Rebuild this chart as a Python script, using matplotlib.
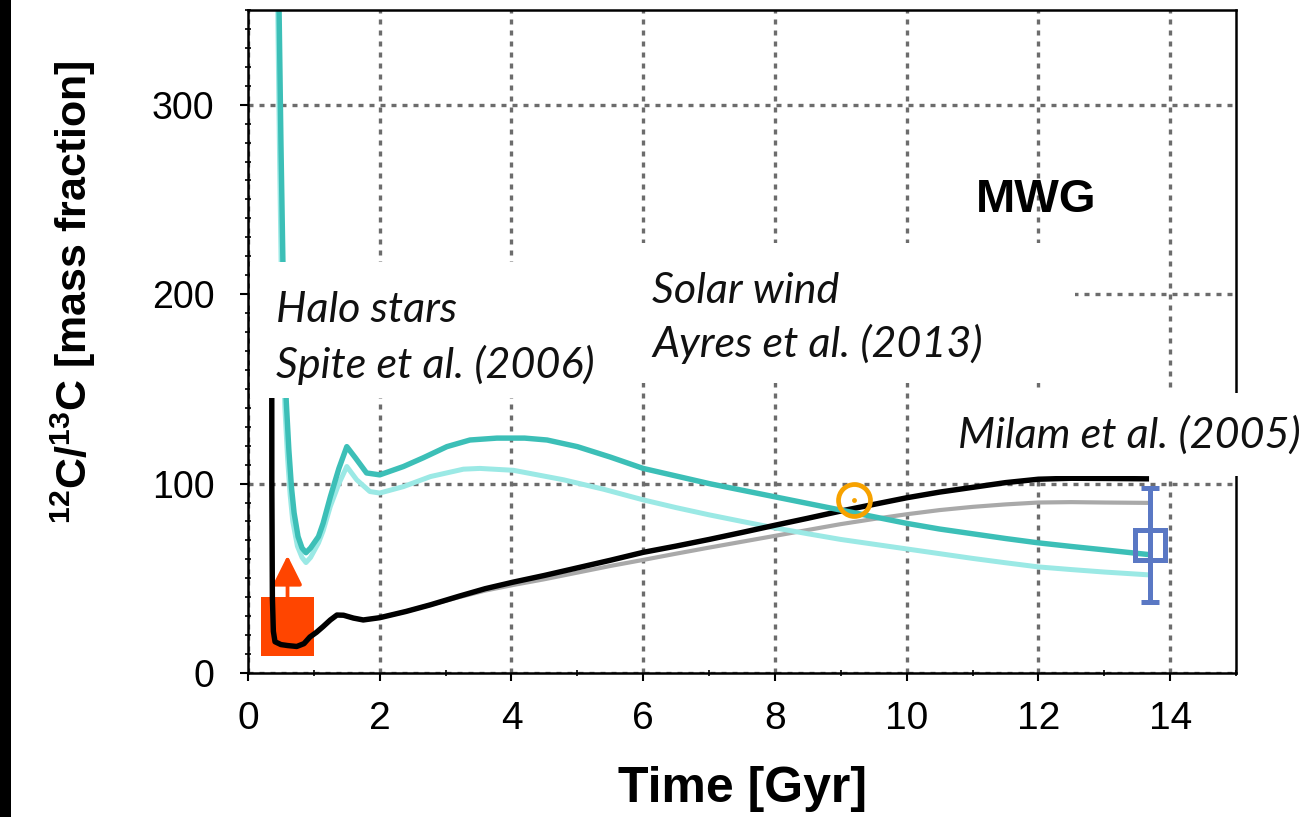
import matplotlib
matplotlib.use('Agg')
import matplotlib.pyplot as plt
from matplotlib.patches import Rectangle
from matplotlib.ticker import MultipleLocator

plt.rcParams['font.family'] = ['Liberation Sans', 'DejaVu Sans']
plt.rcParams['mathtext.fontset'] = 'custom'
plt.rcParams['mathtext.rm'] = 'Liberation Sans'
plt.rcParams['mathtext.bf'] = 'Liberation Sans:bold'

W, H, DPI = 1314, 817, 100

# model tracks: time [Gyr] vs 12C/13C
time_black = [0.36, 0.362, 0.37, 0.385, 0.41, 0.5, 0.6, 0.74, 0.85, 0.94, 1.04, 1.14,
              1.25, 1.35, 1.45, 1.6, 1.75, 2.0, 2.4, 2.77, 3.2, 3.6, 4.03, 4.5, 5.0,
              5.5, 6.0, 6.5, 7.0, 7.5, 8.0, 8.5, 9.0, 9.5, 10.0, 10.5, 11.0, 11.5,
              12.0, 12.5, 13.0, 13.68]
ratio_black = [215, 100, 40, 22, 16.5, 15, 14.5, 14.0, 15.5, 19, 21.5, 24.5,
               28, 30.6, 30.5, 29, 28, 29.2, 32.5, 36, 40.5, 44.5, 48, 51.5, 55.5,
               59.5, 63.7, 67, 70.5, 74.2, 78, 81.7, 85.5, 89, 92.5, 95.5, 98, 100.5,
               102.3, 102.8, 102.7, 102.5]

time_grey = time_black
ratio_grey = [215, 100, 40, 22, 16.5, 15, 14.5, 14.0, 15.5, 19, 21.5, 24.5,
              28, 30.6, 30.5, 29, 28, 29.2, 32.5, 36, 40, 43.5, 46.5, 49.5, 53,
              56.5, 59.7, 63, 66.2, 69.3, 72.4, 75.5, 78.6, 81.3, 83.8, 86, 87.7, 89,
              90, 90.2, 90, 89.8]

time_teal = [0.47, 0.50, 0.53, 0.58, 0.62, 0.66, 0.70, 0.76, 0.82, 0.88, 0.95, 1.07,
             1.14, 1.25, 1.38, 1.5, 1.63, 1.8, 2.0, 2.36, 2.66, 3.02, 3.37, 3.78, 4.2,
             4.54, 5.0, 5.5, 6.0, 6.5, 7.0, 7.5, 8.0, 8.5, 9.0, 9.5, 10.0, 10.5, 11.0,
             11.5, 12.0, 12.5, 13.0, 13.68]
ratio_teal = [355, 280, 217, 144, 118, 98, 84.5, 72, 66, 63.5, 66, 72,
              79, 93, 108, 119.5, 113.6, 105.6, 104.6, 109, 113.6, 119.5, 123, 124, 124,
              123, 119.5, 114, 108, 104, 100, 96.5, 93, 89.5, 86, 82.5, 79, 76, 73.5,
              71, 68.7, 66.8, 65, 62.5]

time_lteal = [0.45, 0.48, 0.51, 0.56, 0.60, 0.64, 0.68, 0.75, 0.82, 0.88, 0.95, 1.07,
              1.14, 1.25, 1.38, 1.5, 1.65, 1.85, 2.0, 2.36, 2.77, 3.27, 3.52, 4.03, 4.79,
              5.4, 6.0, 6.5, 7.0, 7.5, 8.0, 8.5, 9.0, 9.5, 10.0, 10.5, 11.0, 11.5, 12.0,
              12.5, 13.0, 13.68]
ratio_lteal = [355, 270, 200, 140, 114, 94, 80, 67, 61, 58.3, 61, 68.7,
               75, 88, 100, 109, 102, 95.8, 95, 98.4, 103.7, 107.6, 108, 107, 102,
               97, 91.4, 87.3, 83.5, 80, 76.6, 73.5, 70.5, 68, 65.5, 63, 60.5, 58.2, 56,
               54.6, 53.3, 51.8]

# observations
spite_time = (0.2, 1.0)
spite_ratio = (9, 40)
spite_limit = 62
sun_time, sun_ratio = 9.2, 91.4
milam_time, milam_ratio, milam_err = 13.7, 67.6, 30

fig = plt.figure(figsize=(W / DPI, H / DPI), dpi=DPI)
ax = fig.add_axes([248 / W, 1 - 673 / H, 988 / W, 663 / H])


def fig_xy(px, py):
    return px / W, 1 - py / H


ax.plot(time_grey, ratio_grey, color='#a9a9a9', lw=3.0, zorder=2.0, solid_capstyle='butt')
ax.plot(time_black, ratio_black, color='black', lw=3.9, zorder=2.1, solid_capstyle='butt')
ax.plot(time_lteal, ratio_lteal, color='#9be9e5', lw=3.6, zorder=2.0, solid_capstyle='butt')
ax.plot(time_teal, ratio_teal, color='#3cbfb7', lw=3.9, zorder=2.1, solid_capstyle='butt')

ax.add_patch(Rectangle((spite_time[0], spite_ratio[0]),
                       spite_time[1] - spite_time[0], spite_ratio[1] - spite_ratio[0],
                       facecolor='#ff4500', edgecolor='none', zorder=1.8))
mid = 0.5 * (spite_time[0] + spite_time[1])
ax.annotate('', xy=(mid, spite_limit), xytext=(mid, spite_ratio[1]),
            arrowprops=dict(arrowstyle='-|>,head_length=1.2,head_width=0.6',
                            mutation_scale=15, lw=2.7, color='#ff4500',
                            shrinkA=0, shrinkB=0), zorder=1.9)

ax.plot([sun_time], [sun_ratio], marker='o', ms=23, mfc='none', mec='#f7a200',
        mew=3.4, zorder=3)
ax.plot([sun_time], [sun_ratio], marker='o', ms=3.5, color='#f7a200', mew=0, zorder=3)

ax.errorbar([milam_time], [milam_ratio], yerr=[milam_err], fmt='s', ms=21.5,
            mfc='none', mec='#5a78c4', mew=3.6, ecolor='#5a78c4', elinewidth=3.6,
            capsize=6.5, capthick=3.6, zorder=3)

ax.set_xlim(0, 15)
ax.set_ylim(0, 350)
ax.xaxis.set_major_locator(MultipleLocator(2))
ax.xaxis.set_minor_locator(MultipleLocator(1))
ax.yaxis.set_major_locator(MultipleLocator(100))
ax.yaxis.set_minor_locator(MultipleLocator(10))
ax.tick_params(which='major', direction='out', length=6, width=1.5, color='black')
ax.tick_params(which='minor', direction='inout', length=4, width=1.2, color='black')
ax.tick_params(axis='x', labelsize=28, pad=14)
ax.tick_params(axis='y', labelsize=27, pad=18)
ax.grid(True, which='major', linestyle=(0, (1.5, 1.8)), lw=2.4, color='#6c6c6c')
for s in ax.spines.values():
    s.set_linewidth(1.8)

ax.set_xlabel('Time [Gyr]', fontsize=36, fontweight='bold', va='center')
ax.xaxis.set_label_coords(0.5, -0.175)
ax.set_ylabel(r'$^{\mathbf{12}}$C/$^{\mathbf{13}}$C [mass fraction]', fontsize=31,
              fontweight='bold', va='center')
ax.yaxis.set_label_coords(-0.177, 0.575)

# white boxes behind the labels
for x0, y0, x1, y1 in [(250, 262, 640, 398), (640, 243, 1075, 383), (940, 393, 1314, 476)]:
    fx0, fy1 = fig_xy(x0, y0)
    fx1, fy0 = fig_xy(x1, y1)
    ax.add_artist(Rectangle((fx0, fy0), fx1 - fx0, fy1 - fy0, transform=fig.transFigure,
                            facecolor='white', edgecolor='none', zorder=2.8, clip_on=False))

note = dict(fontsize=31, family=['Lato', 'DejaVu Sans'], style='italic', weight='normal',
            color='#111111', ha='left', va='baseline', transform=fig.transFigure, zorder=4)
ax.text(*fig_xy(276, 322), 'Halo stars', **note)
ax.text(*fig_xy(276, 378), 'Spite et al. (2006)', **note)
ax.text(*fig_xy(652, 303), 'Solar wind', **note)
ax.text(*fig_xy(652, 357), 'Ayres et al. (2013)', **note)
ax.text(*fig_xy(958, 448), 'Milam et al. (2005)', clip_on=False, **note)
ax.text(*fig_xy(1036, 200), 'MWG', fontsize=34, fontweight='bold', ha='center',
        va='center', transform=fig.transFigure, zorder=4)

fig.add_artist(Rectangle((0, 0), 11 / W, 1, transform=fig.transFigure,
                         facecolor='black', edgecolor='none'))

fig.savefig('out.png', dpi=DPI)
